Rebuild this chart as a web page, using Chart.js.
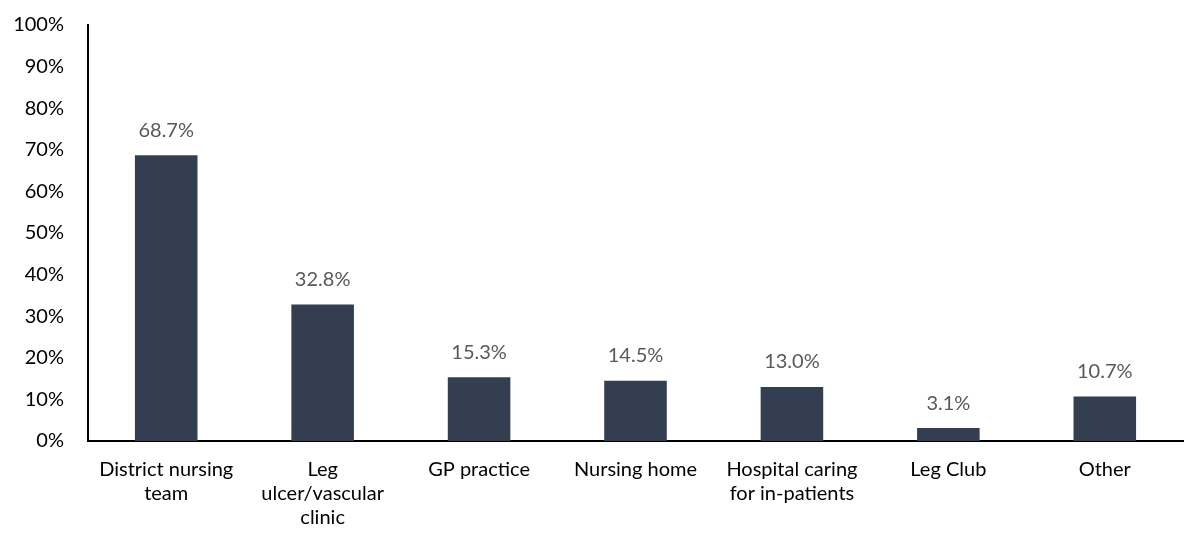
<!DOCTYPE html>
<html>
<head>
<meta charset="utf-8">
<script src="https://cdn.jsdelivr.net/npm/chart.js@4"></script>
<style>
  html, body { margin: 0; padding: 0; background: #fff; }
  #wrap { width: 1197px; height: 540px; }
</style>
</head>
<body>
<div id="wrap"><canvas id="chart" width="1197" height="540"></canvas></div>
<script>
var categories = [
    'District nursing\nteam',
    'Leg\nulcer/vascular\nclinic',
    'GP practice',
    'Nursing home',
    'Hospital caring\nfor in-patients',
    'Leg Club',
    'Other'
];
var values = [68.7, 32.8, 15.3, 14.5, 13.0, 3.1, 10.7];
var yTicks = [0, 10, 20, 30, 40, 50, 60, 70, 80, 90, 100];

var FONT = "Lato, 'Open Sans', sans-serif";

// draw the value above each bar
var barLabels = {
    id: 'barLabels',
    afterDatasetsDraw: function(chart) {
        var ctx = chart.ctx;
        var meta = chart.getDatasetMeta(0);
        ctx.save();
        ctx.font = '20px ' + FONT;
        ctx.fillStyle = '#595959';
        ctx.textAlign = 'center';
        ctx.textBaseline = 'bottom';
        meta.data.forEach(function(bar, i) {
            ctx.fillText(values[i].toFixed(1) + '%', bar.x, bar.y - 15);
        });
        ctx.restore();
    }
};

var ctx = document.getElementById('chart').getContext('2d');
var chart = new Chart(ctx, {
    type: 'bar',
    data: {
        labels: categories.map(function(c) { return c.split('\n'); }),
        datasets: [{
            data: values,
            backgroundColor: '#333f50',
            categoryPercentage: 1,
            barPercentage: 0.4
        }]
    },
    options: {
        responsive: false,
        animation: false,
        layout: { padding: { top: 25, right: 14, left: 0, bottom: 0 } },
        plugins: { legend: { display: false }, tooltip: { enabled: false } },
        scales: {
            x: {
                grid: { display: false, drawTicks: false },
                border: { color: '#000', width: 2 },
                afterFit: function(scale) {
                    scale.height = 99;
                    scale.paddingLeft = 0;
                    scale.paddingRight = 0;
                },
                ticks: {
                    color: '#000',
                    font: { family: FONT, size: 20, lineHeight: 1.2 },
                    padding: 17,
                    maxRotation: 0,
                    autoSkip: false
                }
            },
            y: {
                min: 0,
                max: 100,
                grid: { display: false, drawTicks: false },
                border: { color: '#000', width: 2 },
                afterFit: function(scale) {
                    scale.width = 88;
                    scale.paddingTop = 0;
                    scale.paddingBottom = 0;
                },
                afterBuildTicks: function(scale) {
                    scale.ticks = yTicks.map(function(v) { return { value: v }; });
                },
                ticks: {
                    color: '#000',
                    font: { family: FONT, size: 20 },
                    padding: 24,
                    callback: function(v) { return v + '%'; }
                }
            }
        }
    },
    plugins: [barLabels]
});
</script>
</body>
</html>
